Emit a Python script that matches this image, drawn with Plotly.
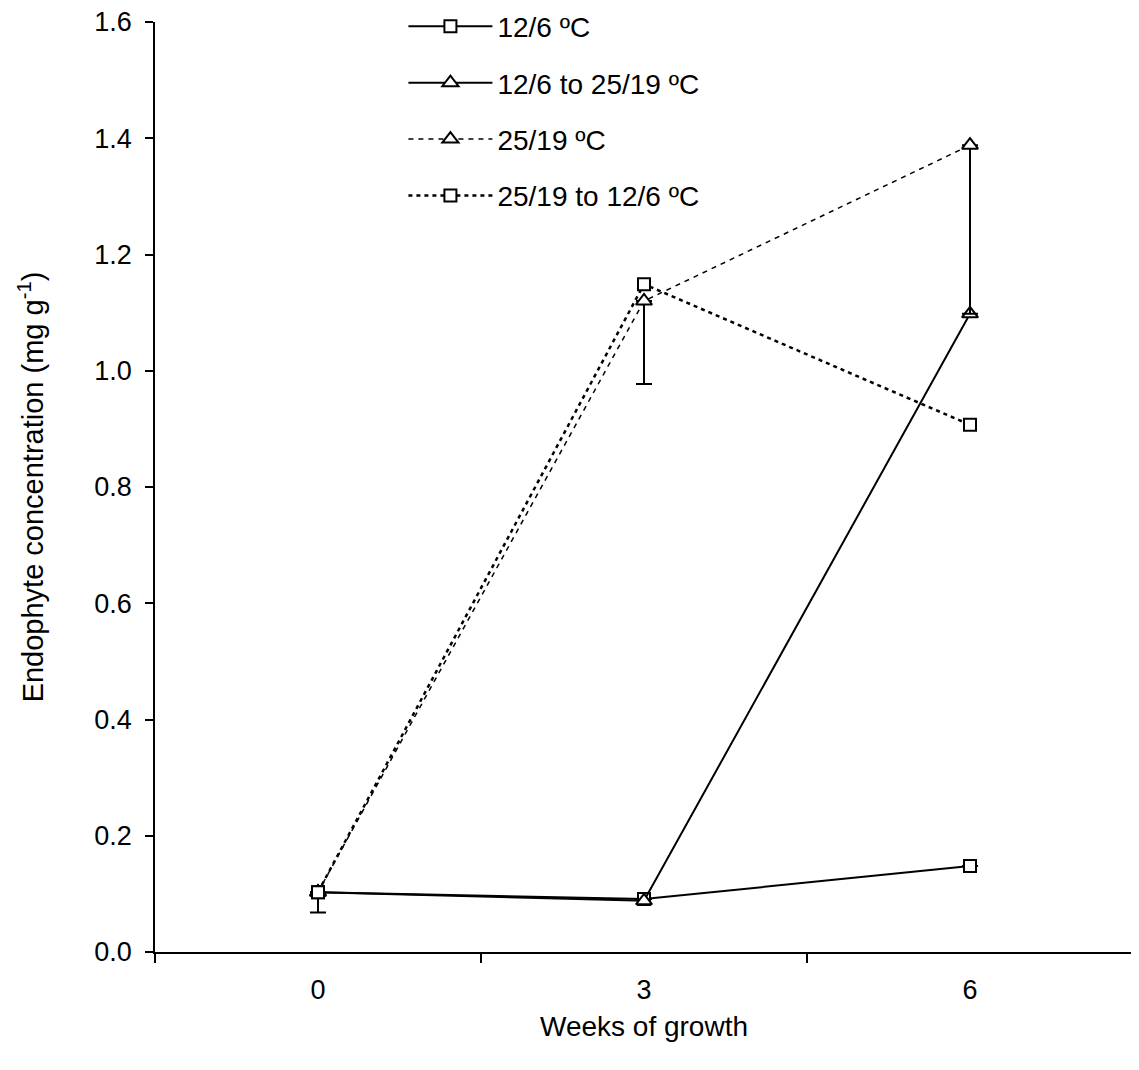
import plotly.graph_objects as go

weeks = ["0", "3", "6"]
s_12_6 = [0.103, 0.091, 0.148]
s_12_6_to_25_19 = [0.103, 0.088, 1.098]
s_25_19 = [0.103, 1.120, 1.388]
s_25_19_to_12_6 = [0.103, 1.149, 0.907]
nan = float("nan")
err_12_6_minus = [0.035, nan, nan]
err_25_19_minus = [nan, 0.143, 0.290]

font = "Liberation Sans, Arial, sans-serif"
FS = 27

fig = go.Figure()


def add(name, y, dash, symbol, width, errm=None):
    kw = {}
    if errm is not None:
        kw["error_y"] = dict(type="data", symmetric=False,
                             array=[0 if v == v else nan for v in errm],
                             arrayminus=errm, color="black", thickness=2, width=8)
    fig.add_trace(go.Scatter(
        x=weeks, y=y, name=name, mode="lines+markers",
        line=dict(color="black", width=width, dash=dash),
        marker=dict(symbol=symbol, size=12 if symbol == "square" else 14,
                    color="white", line=dict(color="black", width=2)),
        legendgroup=name, **kw))


add("12/6 ºC", s_12_6, "solid", "square", 2, err_12_6_minus)
add("12/6 to 25/19 ºC", s_12_6_to_25_19, "solid", "triangle-up", 2)
add("25/19 ºC", s_25_19, "5px,5px", "triangle-up", 1.5, err_25_19_minus)
add("25/19 to 12/6 ºC", s_25_19_to_12_6, "4px,4px", "square", 2.5)

fig.update_layout(
    width=1131, height=1062,
    margin=dict(l=147, r=6, t=14, b=118, autoexpand=False),
    paper_bgcolor="white", plot_bgcolor="white",
    font=dict(family=font, size=FS, color="black"),
    showlegend=True,
    legend=dict(x=0.254, y=1.022, xanchor="left", yanchor="top",
                font=dict(family=font, size=28), tracegroupgap=17, itemwidth=84,
                bgcolor="rgba(0,0,0,0)"),
    xaxis=dict(type="category", range=[-0.5, 2.5], tickson="boundaries",
               showline=True, linecolor="black", linewidth=1.5,
               ticks="outside", ticklen=9, tickcolor="black", tickwidth=1.5,
               tickfont=dict(family=font, size=FS), ticklabelstandoff=13,
               ticklabeloverflow="allow",
               showgrid=False, zeroline=False,
               title=dict(text="Weeks of growth", font=dict(family=font, size=28), standoff=12)),
    yaxis=dict(range=[0, 1.6], dtick=0.2, tickformat=".1f",
               showline=True, linecolor="black", linewidth=1.5,
               ticks="outside", ticklen=8, tickcolor="black", tickwidth=1.5,
               tickfont=dict(family=font, size=FS), ticklabelstandoff=8,
               ticklabeloverflow="allow",
               showgrid=False, zeroline=False,
               title=dict(text="Endophyte concentration (mg g<sup>-1</sup>)",
                          font=dict(family=font, size=29), standoff=42)),
)

fig.write_html("out.html")
